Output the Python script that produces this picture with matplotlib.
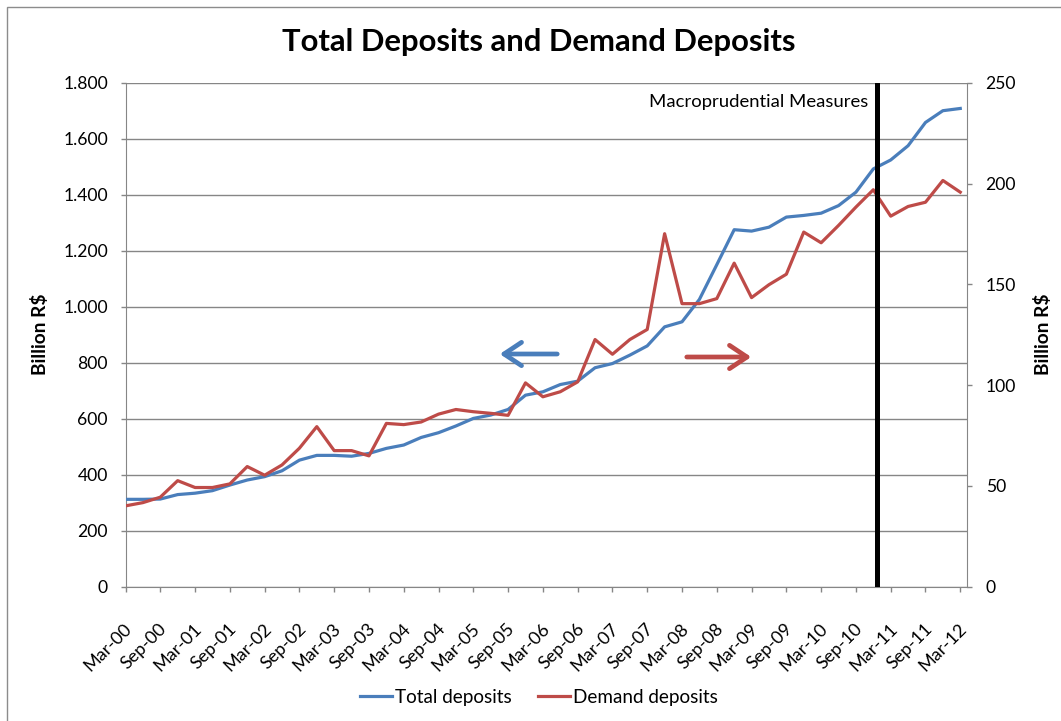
import numpy as np
import matplotlib.pyplot as plt
from matplotlib.patches import Rectangle, FancyArrowPatch
from matplotlib.lines import Line2D
from matplotlib.ticker import FuncFormatter
from matplotlib.transforms import ScaledTranslation

plt.rcParams['font.family'] = ['Lato', 'DejaVu Sans']

# quarterly, Mar-00 .. Mar-12
total_deposits = [312, 312, 313, 329, 334, 343, 363, 381, 393, 414, 452, 469, 469, 466, 476, 494,
                  506, 533, 550, 574, 601, 613, 633, 684, 696, 722, 734, 782, 797, 827, 860, 928,
                  946, 1026, 1150, 1275, 1270, 1284, 1320, 1326, 1334, 1361, 1409, 1492, 1524,
                  1575, 1658, 1700, 1708]
demand_deposits = [40.1, 41.7, 44.4, 52.6, 49.2, 49.2, 51.0, 59.6, 55.3, 60.4, 68.7, 79.4, 67.5,
                   67.5, 64.9, 81.0, 80.4, 81.7, 85.6, 87.9, 86.8, 86.0, 85.0, 101.1, 94.2, 96.7,
                   101.6, 122.6, 115.3, 122.6, 127.6, 175.1, 140.4, 140.4, 142.9, 160.5, 143.4,
                   149.8, 155.0, 175.9, 170.6, 179.2, 188.3, 196.9, 183.8, 188.6, 190.7, 201.5,
                   195.7]
tick_labels = ['Mar-00', 'Sep-00', 'Mar-01', 'Sep-01', 'Mar-02', 'Sep-02', 'Mar-03', 'Sep-03',
               'Mar-04', 'Sep-04', 'Mar-05', 'Sep-05', 'Mar-06', 'Sep-06', 'Mar-07', 'Sep-07',
               'Mar-08', 'Sep-08', 'Mar-09', 'Sep-09', 'Mar-10', 'Sep-10', 'Mar-11', 'Sep-11',
               'Mar-12']
measures_at = 43.2   # Macroprudential Measures marker

W, H = 1061, 721
fig = plt.figure(figsize=(W / 100, H / 100), dpi=100)

# chart frame (only top/left visible in the crop)
fig.patches.append(Rectangle((7 / W, -0.1), 1.2, 1 - 7 / H + 0.1, transform=fig.transFigure,
                             fill=False, edgecolor='#8c8c8c', lw=1))

ax = fig.add_axes([125.5 / W, 1 - 586.7 / H, 841.2 / W, 504 / H])
ax2 = ax.twinx()

grey = '#868686'
blue = '#4a7ebb'
red = '#be4b48'

x = np.arange(len(total_deposits))
ax.plot(x, total_deposits, color=blue, lw=2.3, solid_joinstyle='round', zorder=3)
ax2.plot(x, demand_deposits, color=red, lw=2.3, solid_joinstyle='round', zorder=3)
ax2.axvline(measures_at, color='black', lw=3.6, zorder=4)

ax.set_xlim(0, 48.37)
ax.set_ylim(0, 1800)
ax2.set_ylim(0, 250)
ax.set_yticks(np.arange(0, 1801, 200))
ax2.set_yticks(np.arange(0, 251, 50))
ax.yaxis.set_major_formatter(FuncFormatter(lambda v, p: f'{int(v):,}'.replace(',', '.')))
ax.grid(axis='y', color=grey, lw=1)
ax.set_axisbelow(True)

ax.set_xticks(np.arange(0, 49, 2))
ax.set_xticklabels(tick_labels, rotation=45, ha='right', va='center', rotation_mode='anchor')

for a in (ax, ax2):
    for s in a.spines.values():
        s.set_visible(False)
    a.tick_params(colors=grey, labelcolor='black', labelsize=12.6, length=3.6, width=1)
ax.spines['left'].set_visible(True)
ax.spines['bottom'].set_visible(True)
ax2.spines['right'].set_visible(True)
ax.spines['left'].set_color(grey)
ax.spines['bottom'].set_color(grey)
ax2.spines['right'].set_color(grey)
ax.tick_params(axis='y', pad=9)
ax2.tick_params(axis='y', pad=10)
ax.tick_params(axis='x', pad=15, labelsize=13)

# push the slanted date labels down/right like the original
shift = ScaledTranslation(4 / 100, -14 / 100, fig.dpi_scale_trans)
for lab in ax.get_xticklabels():
    lab.set_transform(lab.get_transform() + shift)

ax.set_ylabel('Billion R$', fontsize=13.8, fontweight='bold')
ax2.set_ylabel('Billion R$', fontsize=13.8, fontweight='bold', rotation=90)
ax.yaxis.set_label_coords((40 - 125.5) / 841.2, 0.5)
ax2.yaxis.set_label_coords((1043 - 125.5) / 841.2, 0.5)
ax.yaxis.label.set_va('center')
ax2.yaxis.label.set_va('center')

fig.text(539 / W, 1 - 42 / H, 'Total Deposits and Demand Deposits', ha='center', va='center',
         fontsize=22.3, fontweight='bold')
fig.text(868 / W, 1 - 102 / H, 'Macroprudential Measures', ha='right', va='center', fontsize=13.3)

# direction arrows
fig.patches.append(FancyArrowPatch(
    (560 / W, 1 - 354 / H), (497 / W, 1 - 354 / H), transform=fig.transFigure,
    arrowstyle='->,head_length=6,head_width=4', color=blue, lw=3.4, mutation_scale=2.1))
fig.patches.append(FancyArrowPatch(
    (684 / W, 1 - 357 / H), (754 / W, 1 - 357 / H), transform=fig.transFigure,
    arrowstyle='->,head_length=6,head_width=4', color=red, lw=3.4, mutation_scale=2.1))

# legend
handles = [Line2D([], [], color=blue, lw=2.3), Line2D([], [], color=red, lw=2.3)]
fig.legend(handles, ['Total deposits', 'Demand deposits'], loc='center',
           bbox_to_anchor=(539 / W, 1 - 697 / H), ncol=2, frameon=False, fontsize=13.6,
           handlelength=1.7, handletextpad=0.15, columnspacing=1.4)

fig.savefig('out.png', dpi=100)
